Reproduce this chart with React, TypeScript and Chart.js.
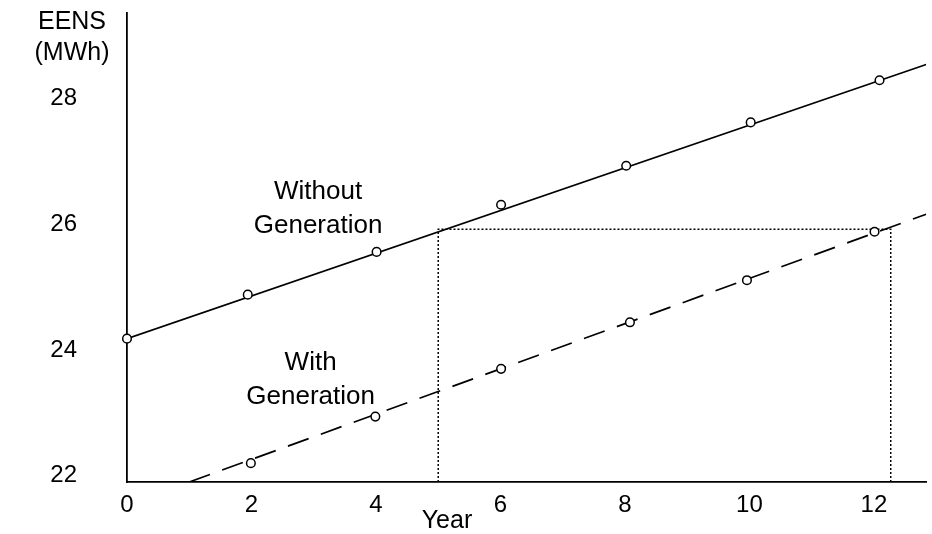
import React, { useEffect, useRef } from "react";
import { Chart, registerables } from "chart.js";

Chart.register(...registerables);

const xTicks = [0, 2, 4, 6, 8, 10, 12];
const yTicks = [22, 24, 26, 28];

const withoutX = [0, 1.94, 4.01, 6.01, 8.02, 10.02, 12.09];
const withoutY = [24.18, 24.88, 25.56, 26.31, 26.93, 27.62, 28.29];

const withX = [1.99, 3.99, 6.01, 8.08, 9.96, 12.01];
const withY = [22.2, 22.94, 23.7, 24.44, 25.11, 25.88];

const withoutFitX = [0, 12.84];
const withoutFitY = [24.18, 28.54];

const withFitX = [1.0, 12.84];
const withFitY = [21.9, 26.16];

const refX = [5, 5, 12.27, 12.27];
const refY = [21.9, 25.92, 25.92, 21.9];

const X_MIN = 0;
const X_MAX = 12.84;
const Y_MIN = 21.9;
const Y_MAX = 29.36;

const FONT = "'Liberation Sans', Arial, sans-serif";

const zip = (xs: number[], ys: number[]) => xs.map((x, i) => ({ x, y: ys[i] }));

const textPlugin = {
  id: "annotText",
  afterDraw(chart: any) {
    const ctx = chart.ctx;
    const xs = chart.scales.x;
    const ys = chart.scales.y;
    ctx.save();
    ctx.fillStyle = "#000";
    ctx.textAlign = "center";
    ctx.textBaseline = "middle";
    ctx.font = `26px ${FONT}`;
    const put = (t: string, xv: number, yv: number) =>
      ctx.fillText(t, xs.getPixelForValue(xv), ys.getPixelForValue(yv));
    put("Without", 3.07, 26.51);
    put("Generation", 3.07, 25.97);
    put("With", 2.95, 23.8);
    put("Generation", 2.95, 23.26);
    ctx.font = `25px ${FONT}`;
    ctx.fillText("Year", 447, 521);
    ctx.fillText("EENS", 72, 22);
    ctx.fillText("(MWh)", 72, 53);
    ctx.restore();
  },
};

export default function App() {
  const ref = useRef<HTMLCanvasElement | null>(null);
  useEffect(() => {
    if (!ref.current) return;
    const chart = new Chart(ref.current, {
      type: "scatter",
      data: {
        datasets: [
          {
            label: "Without markers",
            data: zip(withoutX, withoutY),
            pointRadius: 4.3,
            pointBackgroundColor: "#fff",
            pointBorderColor: "#000",
            pointBorderWidth: 1.5,
            showLine: false,
            clip: false,
            order: 0,
          } as any,
          {
            label: "With markers",
            data: zip(withX, withY),
            pointRadius: 4.3,
            pointBackgroundColor: "#fff",
            pointBorderColor: "#000",
            pointBorderWidth: 1.5,
            showLine: false,
            clip: false,
            order: 0,
          },
          {
            label: "Without Generation",
            data: zip(withoutFitX, withoutFitY),
            showLine: true,
            borderColor: "#000",
            borderWidth: 1.7,
            pointRadius: 0,
            order: 2,
          },
          {
            label: "With Generation",
            data: zip(withFitX, withFitY),
            showLine: true,
            borderColor: "#000",
            borderWidth: 1.7,
            borderDash: [22, 13],
            pointRadius: 0,
            order: 2,
          },
          {
            label: "Reference",
            data: zip(refX, refY),
            showLine: true,
            borderColor: "#000",
            borderWidth: 1.5,
            borderDash: [2, 2],
            pointRadius: 0,
            order: 3,
          },
        ],
      },
      options: {
        responsive: false,
        animation: false,
        devicePixelRatio: 1,
        layout: { padding: { top: 13, right: 2, left: 0, bottom: 0 } },
        plugins: {
          legend: { display: false },
          tooltip: { enabled: false },
        },
        scales: {
          x: {
            type: "linear",
            min: X_MIN,
            max: X_MAX,
            grid: { display: false, drawTicks: false },
            border: { display: true, color: "#000", width: 1.8 },
            afterBuildTicks: (s: any) => {
              s.ticks = xTicks.map((v) => ({ value: v }));
            },
            afterFit: (s: any) => {
              s.height = 52;
              s.paddingLeft = 0;
              s.paddingRight = 0;
            },
            ticks: {
              autoSkip: false,
              maxRotation: 0,
              padding: 9,
              color: "#000",
              font: { family: FONT, size: 24 },
            },
          },
          y: {
            type: "linear",
            min: Y_MIN,
            max: Y_MAX,
            grid: { display: false, drawTicks: false },
            border: { display: true, color: "#000", width: 1.8 },
            afterBuildTicks: (s: any) => {
              s.ticks = yTicks.map((v) => ({ value: v }));
            },
            afterFit: (s: any) => {
              s.width = 127;
              s.paddingTop = 0;
              s.paddingBottom = 0;
            },
            ticks: {
              autoSkip: false,
              padding: 50,
              color: "#000",
              font: { family: FONT, size: 24 },
            },
          },
        },
      },
      plugins: [textPlugin],
    });
    return () => chart.destroy();
  }, []);
  return (
    <div style={{ position: "fixed", left: 0, top: 0, width: 932, height: 534, background: "#fff" }}>
      <canvas ref={ref} width={932} height={534} />
    </div>
  );
}
